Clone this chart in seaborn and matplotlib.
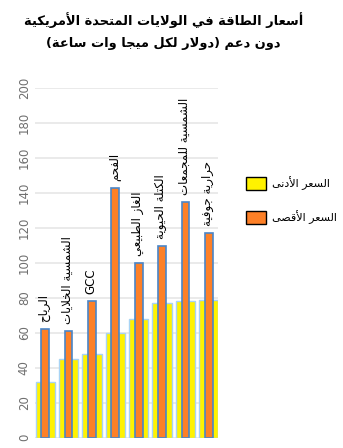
import matplotlib
matplotlib.use("Agg")
import matplotlib.pyplot as plt
import seaborn as sns
import pandas as pd
from matplotlib.patches import Patch

# ---------------- data ----------------
categories = ["الرياح", "الشمسية الخلايات", "GCC", "الفحم", "الغاز الطبيعي",
              "الكتلة الحيوية", "الشمسية للمجمعات", "حرارية جوفية"]
min_price = [32, 45, 48, 60, 68, 77, 78, 79]
max_price = [62, 61, 78, 143, 100, 110, 135, 117]
series_names = ["السعر الأدنى", "السعر الأقصى"]
title_lines = ["أسعار الطاقة في الولايات المتحدة الأمريكية",
               "دون دعم (دولار لكل ميجا وات ساعة)"]
yticks = [0, 20, 40, 60, 80, 100, 120, 140, 160, 180, 200]

# ------------- minimal Arabic shaping (presentation forms + visual order) -------------
FORMS = {  # isolated, final, initial, medial
    'ء': (0xFE80, None, None, None),
    'آ': (0xFE81, 0xFE82, None, None),
    'أ': (0xFE83, 0xFE84, None, None),
    'ؤ': (0xFE85, 0xFE86, None, None),
    'إ': (0xFE87, 0xFE88, None, None),
    'ئ': (0xFE89, 0xFE8A, 0xFE8B, 0xFE8C),
    'ا': (0xFE8D, 0xFE8E, None, None),
    'ب': (0xFE8F, 0xFE90, 0xFE91, 0xFE92),
    'ة': (0xFE93, 0xFE94, None, None),
    'ت': (0xFE95, 0xFE96, 0xFE97, 0xFE98),
    'ث': (0xFE99, 0xFE9A, 0xFE9B, 0xFE9C),
    'ج': (0xFE9D, 0xFE9E, 0xFE9F, 0xFEA0),
    'ح': (0xFEA1, 0xFEA2, 0xFEA3, 0xFEA4),
    'خ': (0xFEA5, 0xFEA6, 0xFEA7, 0xFEA8),
    'د': (0xFEA9, 0xFEAA, None, None),
    'ذ': (0xFEAB, 0xFEAC, None, None),
    'ر': (0xFEAD, 0xFEAE, None, None),
    'ز': (0xFEAF, 0xFEB0, None, None),
    'س': (0xFEB1, 0xFEB2, 0xFEB3, 0xFEB4),
    'ش': (0xFEB5, 0xFEB6, 0xFEB7, 0xFEB8),
    'ص': (0xFEB9, 0xFEBA, 0xFEBB, 0xFEBC),
    'ض': (0xFEBD, 0xFEBE, 0xFEBF, 0xFEC0),
    'ط': (0xFEC1, 0xFEC2, 0xFEC3, 0xFEC4),
    'ظ': (0xFEC5, 0xFEC6, 0xFEC7, 0xFEC8),
    'ع': (0xFEC9, 0xFECA, 0xFECB, 0xFECC),
    'غ': (0xFECD, 0xFECE, 0xFECF, 0xFED0),
    'ف': (0xFED1, 0xFED2, 0xFED3, 0xFED4),
    'ق': (0xFED5, 0xFED6, 0xFED7, 0xFED8),
    'ك': (0xFED9, 0xFEDA, 0xFEDB, 0xFEDC),
    'ل': (0xFEDD, 0xFEDE, 0xFEDF, 0xFEE0),
    'م': (0xFEE1, 0xFEE2, 0xFEE3, 0xFEE4),
    'ن': (0xFEE5, 0xFEE6, 0xFEE7, 0xFEE8),
    'ه': (0xFEE9, 0xFEEA, 0xFEEB, 0xFEEC),
    'و': (0xFEED, 0xFEEE, None, None),
    'ى': (0xFEEF, 0xFEF0, None, None),
    'ي': (0xFEF1, 0xFEF2, 0xFEF3, 0xFEF4),
}
LAM_ALEF = {'آ': (0xFEF5, 0xFEF6), 'أ': (0xFEF7, 0xFEF8),
            'إ': (0xFEF9, 0xFEFA), 'ا': (0xFEFB, 0xFEFC)}


def dual(c):
    return c in FORMS and FORMS[c][2] is not None


def shape(text):
    if not any(c in FORMS for c in text):
        return text
    units = []
    i = 0
    while i < len(text):
        c = text[i]
        if c == 'ل' and i + 1 < len(text) and text[i + 1] in LAM_ALEF:
            units.append(('LA', text[i + 1]))
            i += 2
        else:
            units.append(('C', c))
            i += 1
    out = []
    for k, (kind, c) in enumerate(units):
        prev_joins = False
        if k > 0:
            pk, pc = units[k - 1]
            prev_joins = pk == 'C' and dual(pc)
        if kind == 'LA':
            iso, fin = LAM_ALEF[c]
            out.append(chr(fin if prev_joins else iso))
            continue
        if c not in FORMS:
            out.append(c)
            continue
        next_joins = False
        if k + 1 < len(units):
            nk, nc = units[k + 1]
            next_joins = nk == 'LA' or nc in FORMS
        iso, fin, ini, med = FORMS[c]
        can_next = ini is not None
        if prev_joins and next_joins and can_next:
            g = med
        elif prev_joins and fin is not None:
            g = fin
        elif next_joins and can_next:
            g = ini
        else:
            g = iso
        out.append(chr(g))
    vis = ''.join(reversed(out))
    vis = vis.replace('(', '\0').replace(')', '(').replace('\0', ')')
    return vis


# ---------------- plot ----------------
sns.set_theme(style="white")
plt.rcParams['font.family'] = ['DejaVu Sans']
plt.rcParams['text.color'] = 'black'

fig = plt.figure(figsize=(3.43, 4.48), dpi=100)
ax = fig.add_axes([0.102, 0.023, 0.534, 0.780])

df = pd.DataFrame({"cat": categories, "min": min_price, "max": max_price})

sns.barplot(data=df, x="cat", y="min", order=categories, width=0.82,
            color="#fff200", saturation=1, edgecolor="#a8d4f5", linewidth=1.0, ax=ax)
sns.barplot(data=df, x="cat", y="max", order=categories, width=0.33,
            color="#fd8027", saturation=1, edgecolor="#4a86c8", linewidth=1.2, ax=ax)

ax.set_ylim(0, 200)
ax.set_xlim(-0.44, len(categories) - 0.6)
ax.set_yticks(yticks)
ax.set_yticklabels([str(t) for t in yticks], rotation=90, va="center",
                   fontsize=8.5, color="#6f6f6f")
ax.tick_params(axis="y", length=0, pad=3)
ax.set_xticks([])
ax.set_xlabel("")
ax.set_ylabel("")
ax.yaxis.grid(True, color="#e8e8e8", linewidth=1.3)
ax.set_axisbelow(True)
for s in ax.spines.values():
    s.set_visible(False)

for i, (lab, v) in enumerate(zip(categories, max_price)):
    ax.annotate(shape(lab), (i, v), xytext=(-1, 5), textcoords="offset points",
                rotation=90, ha="center", va="bottom", fontsize=8.5, color="black")

handles = [Patch(facecolor="#fff200", edgecolor="black", linewidth=1.0),
           Patch(facecolor="#fd8027", edgecolor="black", linewidth=1.0)]
fig.legend(handles, [shape(s) for s in series_names], loc="upper left",
           bbox_to_anchor=(0.705, 0.617), frameon=False, fontsize=8,
           handlelength=1.8, handleheight=1.5, labelspacing=1.8,
           handletextpad=0.5, borderaxespad=0, labelcolor="black")

fig.text(0.476, 0.955, shape(title_lines[0]), ha="center", va="center",
         fontsize=9.4, fontweight="bold", color="black")
fig.text(0.476, 0.903, shape(title_lines[1]), ha="center", va="center",
         fontsize=9.4, fontweight="bold", color="black")

fig.savefig("out.png", dpi=100)
